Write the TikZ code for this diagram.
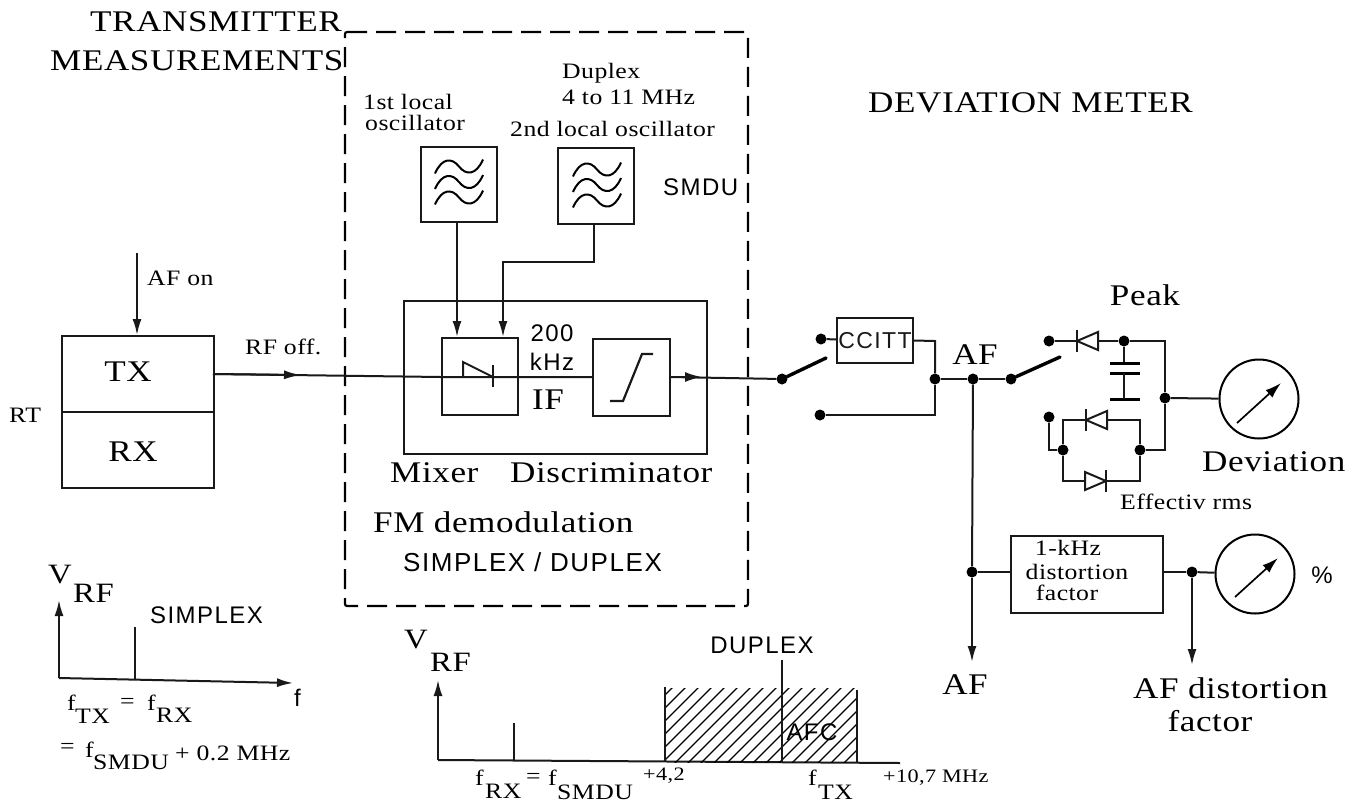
\documentclass[tikz,border=0pt]{standalone}
\usepackage{fontspec}
\setmainfont[FakeStretch=1.17,LetterSpace=2]{Liberation Serif}
\setsansfont[LetterSpace=6]{Liberation Sans}
\usetikzlibrary{arrows.meta}
\tikzset{
  x=1pt,y=-1pt,
  wire/.style={line width=2pt,black!90},
  sig/.style={wire,-{Latex[length=16pt,width=9pt]}},
  box/.style={draw,line width=2.2pt,black!90,inner sep=0pt,anchor=north west},
  dot/.style={circle,fill=black,inner sep=0pt,minimum size=11pt},
  meter/.style={circle,draw,line width=2pt,inner sep=0pt,minimum size=79pt},
  lab/.style={inner sep=0pt,font=\fontsize{30}{34}\selectfont,align=center},
  labm/.style={inner sep=0pt,font=\fontsize{22}{25}\selectfont,align=center},
  labs/.style={inner sep=0pt,font=\fontsize{19}{21}\selectfont},
  sans/.style={inner sep=0pt,font=\sffamily\fontsize{24}{28}\selectfont,align=center},
  blade/.style={line width=3.4pt,line cap=round},
  plate/.style={line width=3pt},
  hatch/.style={line width=1.1pt},
  wavecurve/.style={line width=2pt}
}
\newcommand{\wavesym}[2]{%
  \foreach \o in {-15.5,0,15.5}{
    \draw[wavecurve,shift={(#1,#2+\o)}] (-24,7) .. controls (-17,-9) and (-7,-9) .. (0,0) .. controls (7,9) and (17,9) .. (24,-7);
  }}
\newcommand{\diodeL}[2]{% tip left at #1
  \fill[white] (#1,#2-10) rectangle (#1+21,#2+10);
  \draw[wire] (#1,#2-11) -- (#1,#2+11);
  \draw[wire] (#1,#2) -- (#1+21,#2-9) -- (#1+21,#2+9) -- cycle;}
\newcommand{\diodeR}[2]{% tip right at #1
  \fill[white] (#1-21,#2-10) rectangle (#1,#2+10);
  \draw[wire] (#1,#2-11) -- (#1,#2+11);
  \draw[wire] (#1,#2) -- (#1-21,#2-9) -- (#1-21,#2+9) -- cycle;}
\begin{document}
\begin{tikzpicture}
\useasboundingbox (0,0) rectangle (1360,804);
\fill[white] (0,0) rectangle (1360,804);

% dashed enclosure
\draw[line width=2.2pt,dash pattern=on 20pt off 9pt,rounded corners=2pt] (345,32) -- (748,32) -- (748,606) -- (345,606) -- cycle;

% headings
\node[lab,anchor=west] (t1) at (90,22) {TRANSMITTER};
\node[lab,anchor=west] (t2) at (50,61) {MEASUREMENTS};
\node[lab,anchor=west] (t3) at (868,103) {DEVIATION METER};
\node[labm,anchor=west] (t4) at (363,102) {1st local};
\node[labm,anchor=west] (t4b) at (365,123) {oscillator};
\node[labm,anchor=west] (t5) at (562,73) {Duplex};
\node[labm,anchor=west] (t6) at (562,97) {4 to 11 MHz};
\node[labm,anchor=west] (t7) at (510,129) {2nd local oscillator};
\node[sans,anchor=west] (t8) at (663,187) {SMDU};

% oscillators
\node[box,minimum width=76pt,minimum height=75pt] (osc1) at (420,146) {};
\node[box,minimum width=76pt,minimum height=76pt] (osc2) at (557,147) {};
\wavesym{459}{182}
\wavesym{597}{185}

% FM block
\node[box,minimum width=303pt,minimum height=153pt] (fm) at (403,300) {};
\node[box,minimum width=76pt,minimum height=77pt] (mix) at (441,337) {};
\node[box,minimum width=77pt,minimum height=77pt] (disc) at (592,338) {};
\coordinate (m1) at (457,337);
\coordinate (m2) at (503,337);
\coordinate (o1) at (457,221);
\coordinate (o2) at (594,223);
\draw[sig] (o1) -- (m1);
\draw[sig] (o2) -- (594,262) -- (503,262) -- (m2);

% RT
\node[box,minimum width=152pt,minimum height=76pt] (tx) at (61,335) {};
\node[box,minimum width=152pt,minimum height=76pt] (rx) at (61,411) {};
\node[lab] (txl) at (128,372) {TX};
\node[lab] (rxl) at (133,452) {RX};
\node[labm,anchor=west] (rt) at (9,415) {RT};
\coordinate (afin) at (137,253);
\draw[sig] (afin) -- (137,335);
\node[labm,anchor=west] (afon) at (147,278) {AF on};
\node[labm,anchor=west] (rfoff) at (245,347) {RF off.};

% main signal
\node[dot] (s1) at (782,379) {};
\coordinate (txout) at (213,374);
\draw[wire] (txout) -- (441,377) -- (592,377);
\draw[wire,-{Latex[length=17pt,width=9pt]}] (txout) -- (301,375);
\draw[wire] (669,377) -- (s1);
\draw[wire,-{Latex[length=17pt,width=10pt]}] (669,377) -- (702,377);
% mixer diode
\draw[wire] (463,377) -- (463,362) -- (493,377);
\draw[wire] (493,365) -- (493,387);
% limiter
\draw[wire,line width=2.2pt] (610,401) -- (623,401) -- (642,354) -- (653,354);

\node[sans] (k200) at (552,333) {200};
\node[sans] (kHz) at (552,362) {kHz};
\node[lab] (ifl) at (548,400) {IF};
\node[lab,anchor=west] (mixl) at (390,473) {Mixer};
\node[lab,anchor=west] (discl) at (510,473) {Discriminator};
\node[lab,anchor=west] (fml) at (373,522) {FM demodulation};
\node[sans,anchor=west,font=\sffamily\fontsize{26}{30}\selectfont] (sdl) at (403,562) {SIMPLEX / DUPLEX};

% switch 1
\node[dot] (s2) at (821,339) {};
\node[dot] (s3) at (820,415) {};
\draw[blade] (s1) -- (826,358);
\node[box,minimum width=76pt,minimum height=45pt,anchor=center] (cc) at (875,340.5) {\sffamily\fontsize{23}{26}\selectfont CCITT};
\node[dot] (j1) at (935,379) {};
\node[dot] (j2) at (973,379) {};
\node[dot] (s4) at (1011,379) {};
\draw[wire] (s2) -- (cc);
\draw[wire] (cc.east) -- (935,341) -- (j1);
\draw[wire] (s3) -- (935,415) -- (j1);
\draw[wire] (j1) -- (j2) -- (s4);
\node[lab] (afl) at (975,355) {AF};

% switch 2 and detectors
\node[dot] (s5) at (1049,341) {};
\coordinate (bladeend) at (1060,357);
\draw[blade] (s4) -- (bladeend);
\node[dot] (c1) at (1124,341) {};
\node[dot] (d1) at (1165,398) {};
\node[dot] (s6) at (1049,417) {};
\node[dot] (d2) at (1063,450) {};
\node[dot] (d3) at (1140,450) {};
\draw[wire] (s5) -- (c1) -- (1165,341) -- (d1);
\diodeL{1077}{341}
\draw[wire] (c1) -- (1124,363);
\draw[plate] (1110,363) -- (1140,363);
\draw[plate] (1110,373) -- (1140,373);
\draw[plate] (1110,399) -- (1140,399);
\draw[wire] (1124,373) -- (1124,399);
\draw[wire] (d1) -- (1165,450) -- (d3);
\draw[wire] (s6) -- (1049,450) -- (d2);
\draw[wire] (d2) -- (1063,420) -- (1140,420) -- (d3);
\draw[wire] (d2) -- (1063,481) -- (1140,481) -- (d3);
\diodeL{1086}{420}
\diodeR{1106}{481}
\node[meter] (m3) at (1259,399) {};
\draw[wire] (d1) -- (m3);
\draw[line width=1.7pt,-{Latex[length=16pt,width=10pt]}] (1237,423) -- (1281,383);
\node[lab] (pk) at (1145,295) {Peak};
\node[lab,anchor=west] (dev) at (1202,462) {Deviation};
\node[labm,anchor=west] (eff) at (1120,502) {Effectiv rms};

% distortion branch
\node[dot] (j3) at (972,572) {};
\coordinate (afend) at (972,662);
\draw[wire] (j2) -- (j3);
\draw[sig] (j3) -- (afend);
\node[box,minimum width=152pt,minimum height=77pt] (dist) at (1010,535) {};
\node[labm] (distl1) at (1068,548) {1-kHz};
\node[labm] (distl2) at (1077,572) {distortion};
\node[labm] (distl3) at (1067,593) {factor};
\draw[wire] (j3) -- (dist.west |- j3);
\node[dot] (j4) at (1192,572) {};
\draw[wire] (dist.east |- j4) -- (j4);
\node[meter] (m4) at (1255,574) {};
\draw[wire] (j4) -- (m4);
\draw[line width=1.7pt,-{Latex[length=16pt,width=10pt]}] (1235,597) -- (1278,558);
\coordinate (dend) at (1192,665);
\draw[sig] (j4) -- (dend);
\node[sans] (pct) at (1322,575) {\%};
\node[lab] (aflow) at (965,685) {AF};
\node[lab,anchor=west] (dfl) at (1133,688) {AF distortion};
\node[lab] (dfl2) at (1210,721) {factor};

% simplex graph
\coordinate (g0) at (59,678);
\draw[sig] (g0) -- (59,600);
\draw[sig] (g0) -- (293,683);
\draw[wire] (135,627) -- (135,680);
\node[lab,anchor=west,font=\fontsize{28}{30}\selectfont] (v1) at (48,575) {V};
\node[lab,anchor=west,font=\fontsize{28}{30}\selectfont] (v1b) at (73,593) {RF};
\node[sans,anchor=west] (sx) at (150,615) {SIMPLEX};
\node[sans,anchor=west] (fa) at (294,698) {f};
\node[labm,anchor=west] (f1) at (67,703) {f};
\node[labm,anchor=west] (f1b) at (75,716) {TX};
\node[labm,anchor=west] (f1c) at (120,703) {=};
\node[labm,anchor=west] (f2) at (147,703) {f};
\node[labm,anchor=west] (f2b) at (156,715) {RX};
\node[labm,anchor=west] (f3) at (60,748) {=};
\node[labm,anchor=west] (f4) at (85,750) {f};
\node[labm,anchor=west] (f4b) at (93,762) {SMDU};
\node[labm,anchor=west] (f4c) at (175,753) {+ 0.2 MHz};

% duplex graph
\coordinate (h0) at (438,760);
\draw[sig] (h0) -- (438,680);
\draw[wire] (h0) -- (900,763);
\draw[wire] (514,723) -- (514,761);
\begin{scope}
\clip (665,688) rectangle (857,762);
\foreach \i in {0,13,...,280}{\draw[hatch] (590+\i,770) -- (680+\i,680);}
\end{scope}
\draw[wire] (665,687) -- (665,762);
\draw[wire] (782,660) -- (782,762);
\draw[wire] (857,690) -- (857,763);
\node[sans] (afc) at (812,732) {AFC};
\node[sans] (dpx) at (762,645) {DUPLEX};
\node[lab,anchor=west,font=\fontsize{28}{30}\selectfont] (v2) at (404,640) {V};
\node[lab,anchor=west,font=\fontsize{28}{30}\selectfont] (v2b) at (430,662) {RF};
\node[labm,anchor=west] (g1) at (475,778) {f};
\node[labm,anchor=west] (g1b) at (485,791) {RX};
\node[labm,anchor=west] (g1c) at (526,778) {=};
\node[labm,anchor=west] (g2) at (548,778) {f};
\node[labm,anchor=west] (g2b) at (557,792) {SMDU};
\node[labs,anchor=west] (g3) at (643,776) {+4,2};
\node[labm,anchor=west] (g4) at (808,778) {f};
\node[labm,anchor=west] (g4b) at (818,792) {TX};
\node[labs,anchor=west] (g5) at (883,778) {+10,7 MHz};
\end{tikzpicture}
\end{document}
